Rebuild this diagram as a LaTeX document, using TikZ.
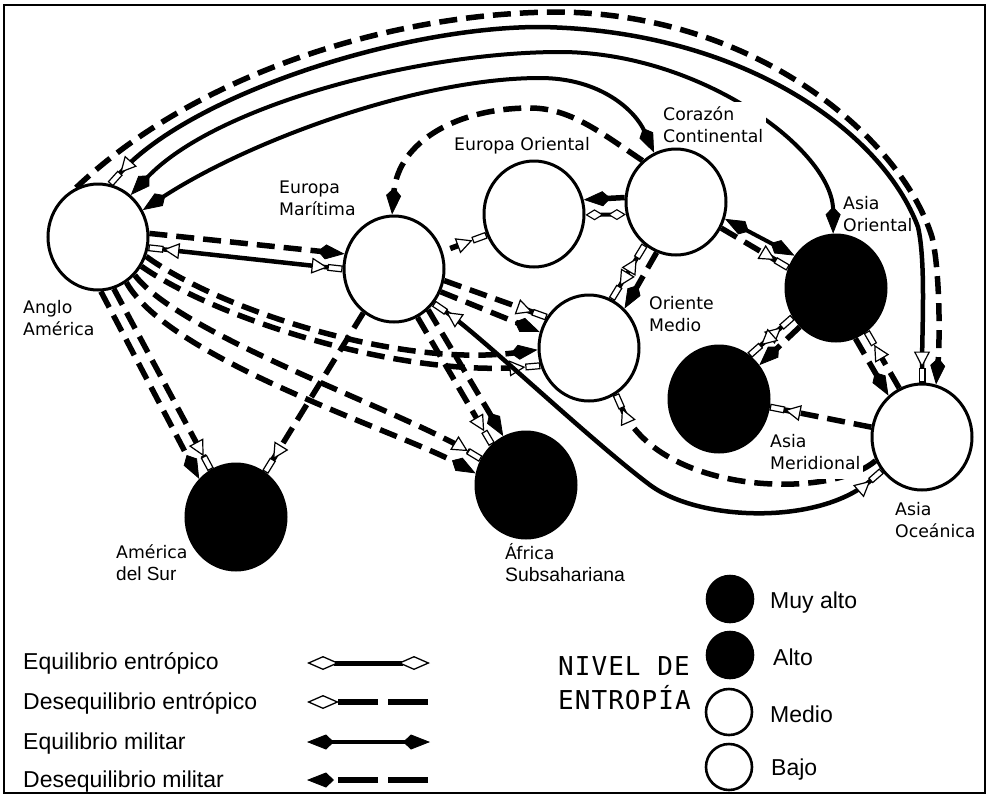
\documentclass[tikz,border=0pt]{standalone}
\usepackage{fontspec}
\setmainfont{DejaVu Sans}
\newfontfamily\legfont{Liberation Sans}
\newfontfamily\nivfont[LetterSpace=4]{DejaVu Sans Mono}
\usetikzlibrary{arrows.meta,shapes.geometric}
\pgfdeclarelayer{bg}
\pgfdeclarelayer{mid}
\pgfsetlayers{bg,mid,main}
\newcommand{\twolines}[2]{\begin{tabular}[t]{@{}l@{}}#1\\#2\end{tabular}}
\tikzset{
  hh/.tip={Triangle[fill=white,line width=1.2pt,length=16pt,width=16pt,sep=0pt] Rectangle[fill=white,line width=1.2pt,length=15pt,width=7pt]},
  hk/.tip={Kite[fill=white,line width=1.3pt,length=32pt,width=14pt,inset=16pt]},
  hs/.tip={Kite[fill=white,line width=1.1pt,length=18pt,width=11pt,inset=9pt]},
  bk/.tip={Kite[line width=0.8pt,length=27pt,width=15pt,inset=8pt]},
  region/.style={ellipse,draw=black,line width=3pt,minimum width=100pt,minimum height=106pt,inner sep=0pt,fill=white},
  high/.style={region,fill=black},
  entEq/.style={line width=4.5pt,arrows=hh-hh},
  entDes/.style={line width=5.5pt,dash pattern=on 18pt off 9pt,arrows=-hh},
  milEq/.style={line width=4pt,arrows=bk-bk},
  milDes/.style={line width=5.5pt,dash pattern=on 18pt off 9pt,arrows=-bk},
  lab/.style={font=\fontsize{17.3}{22}\selectfont,anchor=base west,inner sep=0pt},
  whitelab/.style={lab,fill=white,inner sep=3pt},
  legtext/.style={font=\legfont\fontsize{23}{28}\selectfont,anchor=base west,inner sep=0pt},
  legc/.style={circle,draw=black,line width=2.6pt,minimum size=46pt,inner sep=0pt},
}
\begin{document}
\begin{tikzpicture}[x=1pt,y=-1pt]
\useasboundingbox (0,0) rectangle (989,796);
\draw[line width=2pt] (4,5) rectangle (985,793);

% regions
\node[region] (AA) at (98,237) {};
\node[region] (EM) at (394,269) {};
\node[region] (EO) at (534,214) {};
\node[region] (CC) at (676,202) {};
\node[region] (OM) at (589,348) {};
\node[high] (AO) at (836,288) {};
\node[high] (AM) at (719,399) {};
\node[region] (AOc) at (922,437) {};
\node[high] (AS) at (236,517) {};
\node[high] (AF) at (526,485) {};

\begin{pgfonlayer}{bg}
% long arcs from Anglo America
\coordinate (t1) at (560,12);
\coordinate (r1) at (932,237);
\draw[milDes] (AA.114) .. controls (200,70) and (400,12) .. (t1) .. controls (760,15) and (902,140) .. (r1) .. controls (940,270) and (940,340) .. (AOc.75);
\coordinate (t2) at (540,27);
\coordinate (r2) at (918,227);
\draw[entEq] (AA.77) .. controls (190,95) and (400,27) .. (t2) .. controls (740,30) and (882,130) .. (r2) .. controls (926,262) and (922,330) .. (AOc.90);
\coordinate (t3) at (560,52);
\draw[milEq] (AA.52) .. controls (215,105) and (420,52) .. (t3) .. controls (700,52) and (833,150) .. (AO.93);
\coordinate (t4) at (540,78);
\draw[milEq] (AA.31) .. controls (250,140) and (420,78) .. (t4) .. controls (600,78) and (635,110) .. (CC.114);
\coordinate (t5) at (530,108);
\draw[milDes] (CC.129) .. controls (600,132) and (570,108) .. (t5) .. controls (460,108) and (398,140) .. (EM.92);

% Anglo America to the rest
\draw[milDes] (AA.4) -- (EM.163);
\draw[entEq] (AA.-12) -- (EM.180);
\draw[milDes] (AA.-22) .. controls (220,310) and (400,368) .. (OM.182);
\draw[entDes] (AA.-34) .. controls (215,318) and (400,378) .. (OM.200);
\draw[entDes] (AA.-46) .. controls (180,335) and (400,410) .. (AF.150);
\draw[milDes] (AA.-58) .. controls (170,360) and (400,432) .. (AF.167);
\draw[entDes] (AA.-73) -- (AS.118);
\draw[milDes] (AA.-87) -- (AS.134);

% Europa Maritima
\draw[entDes,shorten <=8pt] (EM.20) -- (EO.204);
\draw[entDes] (EM.-13) -- (OM.144);
\draw[milDes] (EM.-26) -- (OM.162);
\draw[entDes] (EM.-64) -- (AF.130);
\draw[milDes] (EM.-50) -- (AF.115);
\draw[entDes] (EM.-125) -- (AS.57);
\coordinate (m1) at (650,485);
\draw[entEq] (EM.-41) .. controls (480,335) and (590,440) .. (m1) .. controls (700,522) and (820,525) .. (AOc.220);

% Corazon Continental
\draw[milDes] (CC.175) -- (EO.16);
\draw[line width=4pt,arrows=hs-hs] (EO.-1) -- (CC.194);
\draw[entEq] (CC.234) -- (OM.65);
\draw[milDes] (CC.249) -- (OM.48);
\draw[milEq] (CC.-19) -- (AO.142);
\draw[entDes] (CC.-30) -- (AO.157);

% Asia
\draw[entEq] (AO.214) -- (AM.55);
\draw[milDes] (AO.227) -- (AM.40);
\draw[milDes] (AO.-69) -- (AOc.129);
\draw[entDes] (AOc.115) -- (AO.-55);
\draw[entDes] (AOc.169) -- (AM.-9);
\draw[entDes] (AOc.207) .. controls (830,500) and (660,495) .. (OM.-60);
\end{pgfonlayer}

\begin{pgfonlayer}{mid}
\node[lab] (lAA) at (23,313) {\twolines{Anglo}{América}};
\node[lab] (lEM) at (279,193) {\twolines{Europa}{Marítima}};
\node[lab] (lEO) at (454,150) {Europa Oriental};
\node[whitelab] (lCC) at (660,120) {\twolines{Corazón}{Continental}};
\node[lab] (lAO) at (843,209) {\twolines{Asia}{Oriental}};
\node[lab] (lOM) at (649,309) {\twolines{Oriente}{Medio}};
\node[whitelab] (lAM) at (767,447) {\twolines{Asia}{Meridional}};
\node[lab] (lAOc) at (895,515) {\twolines{Asia}{Oceánica}};
\node[lab] (lAS) at (116,558) {\twolines{América}{\legfont\fontsize{19}{22}\selectfont del Sur}};
\node[lab] (lAF) at (505,559) {\twolines{África}{\legfont\fontsize{19.4}{22}\selectfont Subsahariana}};
\end{pgfonlayer}

% legend: connectors
\node[legtext] (g1) at (23,669) {Equilibrio entrópico};
\node[legtext] (g2) at (23,709) {Desequilibrio entrópico};
\node[legtext] (g3) at (23,749) {Equilibrio militar};
\node[legtext] (g4) at (23,787) {Desequilibrio militar};
\coordinate (L1a) at (307,663); \coordinate (L1b) at (430,663);
\coordinate (L2a) at (307,702); \coordinate (L2b) at (428,702);
\coordinate (L3a) at (307,742); \coordinate (L3b) at (430,742);
\coordinate (L4a) at (307,780); \coordinate (L4b) at (428,780);
\draw[line width=5pt,arrows=hk-hk] (L1a) -- (L1b);
\draw[line width=5.5pt,dash pattern=on 40pt off 10pt,arrows=-hk] (L2b) -- (L2a);
\draw[milEq] (L3a) -- (L3b);
\draw[milDes,dash pattern=on 40pt off 10pt] (L4b) -- (L4a);

% legend: entropy levels
\node[anchor=base west,inner sep=0pt,font=\nivfont\fontsize{26}{33}\selectfont] (niv) at (558,675) {\twolines{NIVEL DE}{ENTROPÍA}};
\node[legc,fill=black] (k1) at (730,599) {};
\node[legc,fill=black] (k2) at (730,655) {};
\node[legc,fill=white] (k3) at (729,712) {};
\node[legc,fill=white] (k4) at (729,767) {};
\node[legtext] (n1) at (770,608) {Muy alto};
\node[legtext] (n2) at (773,665) {Alto};
\node[legtext] (n3) at (770,722) {Medio};
\node[legtext] (n4) at (771,775) {Bajo};
\end{tikzpicture}
\end{document}
